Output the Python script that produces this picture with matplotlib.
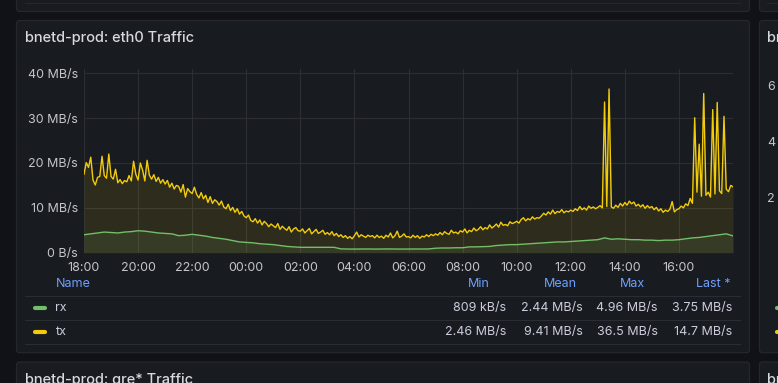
import numpy as np
import matplotlib
matplotlib.use('Agg')
import matplotlib.pyplot as plt
from matplotlib.patches import FancyBboxPatch
from matplotlib.lines import Line2D
from matplotlib.transforms import IdentityTransform

# ---------------- data ----------------
title = "bnetd-prod: eth0 Traffic"
x_tick_labels = ["18:00", "20:00", "22:00", "00:00", "02:00", "04:00", "06:00",
                 "08:00", "10:00", "12:00", "14:00", "16:00"]
y_ticks = [0, 10, 20, 30, 40]
y_tick_labels = ["0 B/s", "10 MB/s", "20 MB/s", "30 MB/s", "40 MB/s"]

# tx in MB/s, one value every 5 minutes from 18:00 to 18:00 next day
tx = [
    17.5, 20.1, 19.0, 21.3, 16.2, 15.1, 16.8, 17.0, 21.5, 17.2, 16.6, 22.0,   # 18h
    17.0, 16.4, 18.6, 15.6, 16.3, 15.4, 16.1, 15.8, 17.2, 16.0, 20.4, 17.5,   # 19h
    16.2, 20.0, 18.4, 16.0, 20.6, 17.3, 16.4, 17.4, 15.9, 16.8, 15.5, 16.3,   # 20h
    15.3, 16.1, 14.6, 15.5, 14.2, 15.0, 14.8, 13.5, 15.2, 12.4, 14.3, 13.6,   # 21h
    13.2, 14.6, 13.0, 12.2, 13.4, 12.0, 12.8, 11.2, 12.5, 11.0, 11.8, 11.4,   # 22h
    10.6, 11.5, 10.2, 9.8, 10.8, 9.4, 10.1, 9.0, 9.8, 8.6, 9.2, 8.2,          # 23h
    7.8, 8.4, 7.2, 6.9, 7.6, 6.6, 7.3, 6.2, 7.0, 6.5, 5.8, 6.4,               # 00h
    6.0, 5.6, 6.5, 5.2, 5.9, 5.4, 5.0, 5.8, 4.6, 5.3, 5.6, 4.9,               # 01h
    4.8, 5.3, 4.4, 4.9, 5.4, 4.2, 4.7, 5.2, 4.3, 4.6, 5.0, 4.1,               # 02h
    4.5, 4.0, 4.7, 3.8, 4.3, 3.6, 4.0, 3.4, 3.8, 3.2, 3.6, 3.1,               # 03h
    3.8, 4.6, 3.5, 4.0, 3.7, 3.4, 3.9, 3.6, 3.8, 3.3, 3.9, 3.4,               # 04h
    3.7, 3.2, 3.9, 3.5, 4.4, 3.3, 3.8, 4.8, 3.4, 3.7, 4.2, 3.5,               # 05h
    3.6, 3.3, 3.9, 3.4, 3.8, 3.2, 3.7, 3.5, 4.0, 3.6, 4.1, 3.8,               # 06h
    4.2, 3.9, 4.5, 4.0, 4.7, 4.3, 4.1, 5.0, 4.4, 4.6, 4.2, 4.9,               # 07h
    4.6, 5.3, 4.4, 5.0, 4.7, 5.5, 4.9, 5.2, 5.8, 5.1, 5.6, 5.3,               # 08h
    6.2, 5.5, 5.9, 6.4, 5.7, 6.8, 6.1, 6.3, 6.0, 6.9, 6.5, 6.7,               # 09h
    7.0, 6.6, 7.4, 7.8, 7.1, 7.6, 7.3, 8.0, 7.5, 7.8, 7.7, 8.2,               # 10h
    8.8, 8.4, 9.1, 8.6, 9.5, 8.7, 9.2, 9.0, 9.6, 8.9, 9.3, 9.1,               # 11h
    9.5, 9.2, 9.8, 9.4, 10.3, 9.6, 10.0, 9.5, 10.4, 9.9, 10.2, 9.8,           # 12h
    10.1, 10.5, 10.0, 33.6, 10.3, 36.5, 10.2, 9.9, 10.6, 10.1, 11.0, 10.4,    # 13h
    11.2, 10.6, 11.5, 10.9, 11.3, 10.4, 10.8, 10.2, 10.7, 9.9, 10.5, 10.0,    # 14h
    10.3, 9.6, 10.1, 9.3, 9.8, 9.0, 9.5, 9.2, 9.7, 11.4, 9.1, 9.6,            # 15h
    9.8, 10.4, 10.0, 10.9, 10.5, 12.1, 11.0, 30.1, 13.5, 24.2, 12.6, 35.5,    # 16h
    12.8, 13.5, 12.4, 31.9, 13.1, 33.5, 13.8, 13.2, 30.4, 14.2, 13.6, 15.0,   # 17h
    14.7,
]

# rx in MB/s, one value every 15 minutes from 18:00 to 18:00 next day
rx = [
    4.0, 4.2, 4.4, 4.6, 4.5, 4.4, 4.6, 4.7, 4.9, 4.8, 4.6, 4.4,
    4.3, 4.2, 3.8, 3.9, 4.1, 3.9, 3.7, 3.4, 3.2, 3.0, 2.7, 2.4,
    2.3, 2.2, 2.0, 1.9, 1.8, 1.6, 1.4, 1.3, 1.2, 1.2, 1.2, 1.2,
    1.2, 1.2, 0.85, 0.82, 0.81, 0.82, 0.83, 0.81, 0.82, 0.84, 0.82, 0.81,
    0.82, 0.83, 0.82, 0.84, 1.0, 1.05, 1.05, 1.1, 1.1, 1.3, 1.3, 1.35,
    1.4, 1.6, 1.7, 1.8, 1.8, 1.9, 2.0, 2.1, 2.2, 2.3, 2.4, 2.4,
    2.5, 2.6, 2.7, 2.8, 2.9, 3.3, 3.0, 3.1, 3.0, 2.9, 2.9, 2.8,
    2.8, 2.7, 2.8, 2.8, 2.9, 3.1, 3.3, 3.4, 3.6, 3.8, 4.0, 4.2,
    3.75,
]

series_names = ["rx", "tx"]
series_colors = ["#73bf69", "#f2cc0c"]
stat_headers = ["Min", "Mean", "Max", "Last *"]
stat_values = [
    ["809 kB/s", "2.44 MB/s", "4.96 MB/s", "3.75 MB/s"],
    ["2.46 MB/s", "9.41 MB/s", "36.5 MB/s", "14.7 MB/s"],
]

# ---------------- styling ----------------
plt.rcParams['font.family'] = ['Inter', 'DejaVu Sans']
W, H = 778, 383
PAGE = '#111217'
PANEL = '#181b1f'
BORDER = '#25272d'
GRID = '#2c2e33'
TEXT = '#ccccdc'
TICK = '#c4c5cc'
BLUE = '#6e9fff'

fig = plt.figure(figsize=(W / 100, H / 100), dpi=100, facecolor=PAGE)
IT = IdentityTransform()


def panel(x0, y0, x1, y1):
    p = FancyBboxPatch((x0, H - y1), x1 - x0, y1 - y0,
                       boxstyle='round,pad=0,rounding_size=3',
                       transform=IT, facecolor=PANEL, edgecolor=BORDER,
                       lw=0.9, zorder=-5)
    fig.patches.append(p)


def hline(x0, x1, y, color=BORDER, lw=0.8):
    fig.lines.append(Line2D([x0, x1], [H - y, H - y], transform=IT,
                            color=color, lw=lw, zorder=-4))


def ftext(x, y, s, **kw):
    fig.text(x, H - y, s, transform=IT, **kw)


# panels
panel(16.5, -30, 749.5, 11.5)
panel(759.5, -30, 820, 11.5)
panel(16.5, 20.5, 749.5, 352.7)
panel(759.5, 20.5, 820, 352.7)
panel(16.5, 362, 749.5, 420)
panel(759.5, 362, 820, 420)
hline(25, 740, 2.5)
hline(767, 790, 2.5)

# titles
ftext(25, 38, title, fontsize=10.5, color='#d8d9df', fontweight='medium',
      va='center', ha='left')
ftext(25, 380, "bnetd-prod: gre* Traffic", fontsize=10.5, color='#d8d9df',
      fontweight='medium', va='center', ha='left')
ftext(767, 38, "bn", fontsize=10.5, color='#d8d9df',
      fontweight='medium', va='center', ha='left')
ftext(767, 380, "bn", fontsize=10.5, color='#d8d9df',
      fontweight='medium', va='center', ha='left')
for yy, lab in [(87, "6"), (143, "4"), (199, "2")]:
    ftext(767, yy, lab, fontsize=9, color=TICK, va='center', ha='left')

# ---------------- chart ----------------
top_px, bot_px = 69.3, 252.7
ax = fig.add_axes([84 / W, 1 - bot_px / H, (733 - 84) / W, (bot_px - top_px) / H])
ax.set_zorder(2)
ax.set_facecolor('none')
ax.set_xlim(0, 24)
ax.set_ylim(0, 40 * (bot_px - top_px) / (bot_px - 73.3))

t_tx = np.arange(len(tx)) * 5 / 60
t_rx = np.arange(len(rx)) * 15 / 60

ax.fill_between(t_tx, 0, tx, color=series_colors[1], alpha=0.10, lw=0, zorder=2)
ax.fill_between(t_rx, 0, rx, color=series_colors[0], alpha=0.10, lw=0, zorder=2)
ax.plot(t_rx, rx, color=series_colors[0], lw=1.0, zorder=3)
ax.plot(t_tx, tx, color=series_colors[1], lw=1.0, zorder=4)

ax.set_xticks(np.arange(0, 24, 2))
ax.set_xticklabels(x_tick_labels)
ax.set_yticks(y_ticks)
ax.set_yticklabels(y_tick_labels)
ax.tick_params(axis='both', length=0, labelsize=9, labelcolor=TICK)
ax.tick_params(axis='y', pad=4.3)
ax.tick_params(axis='x', pad=7)
ax.grid(True, color=GRID, lw=0.8, zorder=1)
ax.set_axisbelow(True)
for s in ax.spines.values():
    s.set_visible(False)

# ---------------- legend table ----------------
ftext(55.5, 284, "Name", fontsize=9, color=BLUE, va='center', ha='left')
for hx, h in zip([490, 577, 645, 730], stat_headers):
    ftext(hx, 284, h, fontsize=9, color=BLUE, va='center', ha='right')
for yy in [296, 320, 344]:
    hline(25, 740, yy, color='#2a2d33', lw=0.8)
for i, (name, col, vals) in enumerate(zip(series_names, series_colors, stat_values)):
    yy = 308 + 24 * i
    fig.lines.append(Line2D([35, 45], [H - yy, H - yy], transform=IT, color=col,
                            lw=3, solid_capstyle='round', zorder=3))
    ftext(55.5, yy, name, fontsize=9, color=TEXT, va='center', ha='left')
    for vx, v in zip([506, 583, 658, 732], vals):
        ftext(vx, yy, v, fontsize=9, color=TEXT, va='center', ha='right')
    fig.lines.append(Line2D([777, 790], [H - yy, H - yy], transform=IT, color=col,
                            lw=3, solid_capstyle='round', zorder=3))

fig.savefig('out.png', dpi=100, facecolor=PAGE)
